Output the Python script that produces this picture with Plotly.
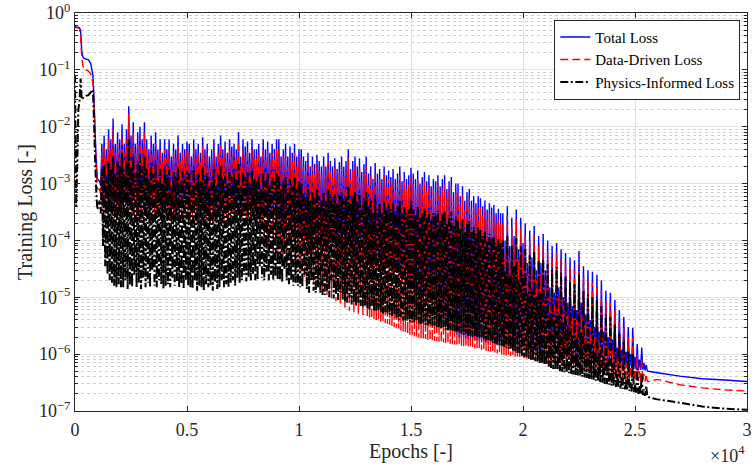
import plotly.graph_objects as go

# ---------------- data ----------------
# Early, smooth phase of training (epochs 0 - 1000)
epochs_early = [0, 50, 100, 150, 200, 250, 300, 350, 400, 500, 600, 700, 800, 850, 900, 950, 1000]
total_early = [0.58, 0.57, 0.56, 0.56, 0.55, 0.5, 0.22, 0.17, 0.16, 0.155, 0.15, 0.13, 0.08, 0.03, 8e-3, 2.5e-3, 1.2e-3]
data_early = [0.56, 0.55, 0.55, 0.54, 0.53, 0.4, 0.17, 0.12, 0.1, 0.1, 0.095, 0.085, 0.06, 0.025, 6e-3, 1.8e-3, 8e-4]
phys_early = [0.08, 4e-4, 2e-3, 0.02, 0.028, 0.07, 0.03, 0.032, 0.033, 0.035, 0.036, 0.04, 0.045, 0.012, 2.5e-3, 7e-4, 3.5e-4]

# Oscillating phase, one value every 50 epochs from 1100 to 25600 (one row = 1000 epochs)
epochs_noisy = list(range(1100, 25650, 50))

total_noisy = [
    1.1e-3, 9e-4, 5e-3, 5e-4, 7e-3, 4e-4, 4e-3, 3.5e-4, 9e-3, 4e-4, 6e-3, 3e-4, 1.4e-2, 4.5e-4, 5e-3, 3.5e-4, 8e-3, 4e-4, 6e-3, 3e-4,
    1.1e-2, 4e-4, 5e-3, 5e-4, 9e-3, 3.5e-4, 2.3e-2, 4.5e-4, 7e-3, 3.5e-4, 1.2e-2, 5e-4, 5e-3, 3.5e-4, 8e-3, 4e-4, 1e-2, 3e-4, 6e-3, 4.5e-4,
    1.2e-2, 3.5e-4, 6e-3, 4e-4, 4e-3, 3e-4, 7e-3, 5e-4, 5e-3, 3.5e-4, 8e-3, 4e-4, 4e-3, 4.5e-4, 6e-3, 3.5e-4, 3.5e-3, 3e-4, 6e-3, 4e-4,
    4e-3, 4e-4, 6e-3, 3e-4, 3e-3, 4.5e-4, 5e-3, 3.5e-4, 4e-3, 4e-4, 7e-3, 3e-4, 3.5e-3, 4e-4, 5e-3, 3e-4, 4e-3, 4.5e-4, 5.5e-3, 3.5e-4,
    5e-3, 3.5e-4, 3e-3, 3e-4, 6e-3, 4e-4, 4e-3, 2.5e-4, 5e-3, 3.5e-4, 3.5e-3, 3e-4, 6.5e-3, 2.5e-4, 4e-3, 3.5e-4, 5e-3, 3e-4, 3e-3, 3.5e-4,
    4e-3, 2.5e-4, 6e-3, 3.5e-4, 3e-3, 3e-4, 5e-3, 3e-4, 7e-3, 4e-4, 4e-3, 3e-4, 5.5e-3, 3.5e-4, 3.5e-3, 3e-4, 6e-3, 3.5e-4, 4.5e-3, 4e-4,
    5e-3, 3e-4, 4e-3, 3.5e-4, 8e-3, 3e-4, 3e-3, 3.5e-4, 6e-3, 4e-4, 4.5e-3, 3e-4, 5.5e-3, 3.5e-4, 3.5e-3, 3e-4, 6e-3, 4e-4, 4e-3, 3e-4,
    4e-3, 3e-4, 5e-3, 4e-4, 3e-3, 3e-4, 6e-3, 2.5e-4, 4e-3, 3.5e-4, 5.5e-3, 2.5e-4, 3.5e-3, 3e-4, 5e-3, 2.2e-4, 4e-3, 2.5e-4, 6e-3, 2e-4,
    6e-3, 2e-4, 3e-3, 1.8e-4, 4e-3, 2e-4, 5e-3, 1.6e-4, 3e-3, 1.7e-4, 4.5e-3, 1.5e-4, 3.5e-3, 1.6e-4, 5e-3, 1.4e-4, 3e-3, 1.5e-4, 4e-3, 1.3e-4,
    4e-3, 1.3e-4, 3e-3, 1.2e-4, 2.5e-3, 1.25e-4, 3.5e-3, 1.1e-4, 2e-3, 1.15e-4, 3e-3, 1e-4, 2.2e-3, 1.05e-4, 3.2e-3, 9.5e-5, 2.5e-3, 1e-4, 2e-3, 9e-5,
    3e-3, 9e-5, 2e-3, 8.5e-5, 3.5e-3, 8.8e-5, 2.5e-3, 8e-5, 2e-3, 8.2e-5, 2.8e-3, 7.5e-5, 1.8e-3, 7.8e-5, 2.4e-3, 7e-5, 3e-3, 7.2e-5, 2e-3, 6.5e-5,
    2.5e-3, 6.5e-5, 4e-3, 6e-5, 1.8e-3, 6.2e-5, 2.5e-3, 5.5e-5, 3e-3, 5.8e-5, 2e-3, 5e-5, 2.8e-3, 5.3e-5, 1.6e-3, 4.8e-5, 2.2e-3, 5e-5, 3e-3, 4.5e-5,
    1.5e-3, 4.5e-5, 2e-3, 4e-5, 1.2e-3, 4.2e-5, 2.3e-3, 3.8e-5, 1.5e-3, 4e-5, 1.8e-3, 3.5e-5, 1.2e-3, 3.6e-5, 2e-3, 3.2e-5, 1.4e-3, 3.4e-5, 1.7e-3, 3e-5,
    1.3e-3, 3e-5, 1.8e-3, 2.7e-5, 1.2e-3, 2.8e-5, 1.5e-3, 2.5e-5, 2e-3, 2.6e-5, 1.1e-3, 2.2e-5, 1.6e-3, 2.4e-5, 1.2e-3, 2e-5, 1.4e-3, 2.1e-5, 1.9e-3, 1.8e-5,
    1.5e-3, 1.7e-5, 1.2e-3, 1.4e-5, 1.7e-3, 1.5e-5, 1e-3, 1.2e-5, 1.3e-3, 1.2e-5, 1.6e-3, 1e-5, 1.1e-3, 1e-5, 1.4e-3, 8e-6, 9e-4, 8e-6, 1.2e-3, 6e-6,
    1.1e-3, 5e-6, 1.4e-3, 4.5e-6, 9e-4, 4e-6, 1.2e-3, 3.5e-6, 1.4e-3, 3.2e-6, 8e-4, 3e-6, 1.1e-3, 2.8e-6, 1.3e-3, 2.6e-6, 7e-4, 2.4e-6, 1e-3, 2.2e-6,
    1e-3, 1.97e-6, 6e-4, 1.95e-6, 9e-4, 1.9e-6, 5e-4, 1.88e-6, 7e-4, 1.85e-6, 8e-4, 1.82e-6, 5e-4, 1.8e-6, 6e-4, 1.78e-6, 4.5e-4, 1.75e-6, 6e-4, 1.72e-6,
    5.5e-4, 1.7e-6, 4e-4, 1.65e-6, 5e-4, 1.6e-6, 3.5e-4, 1.57e-6, 4.5e-4, 1.55e-6, 3.8e-4, 1.52e-6, 4.2e-4, 1.5e-6, 3e-4, 1.47e-6, 3.6e-4, 1.45e-6, 3e-4, 1.42e-6,
    3e-4, 1.4e-6, 1e-4, 1.39e-6, 4e-4, 1.38e-6, 8e-5, 1.36e-6, 2.5e-4, 1.34e-6, 1.2e-4, 1.32e-6, 3.5e-4, 1.3e-6, 7e-5, 1.28e-6, 2.5e-4, 1.26e-6, 9e-5, 1.24e-6,
    2e-4, 1.22e-6, 4e-5, 1.2e-6, 1.5e-4, 1.18e-6, 5e-5, 1.15e-6, 1.8e-4, 1.12e-6, 3e-5, 1.1e-6, 1.2e-4, 1.08e-6, 4e-5, 1.06e-6, 1.3e-4, 1.04e-6, 3e-5, 1.02e-6,
    1e-4, 1e-6, 1.5e-5, 9.9e-7, 8e-5, 9.7e-7, 1.2e-5, 9.5e-7, 9e-5, 9.4e-7, 1.5e-5, 9.2e-7, 7e-5, 9.1e-7, 1e-5, 9e-7, 6e-5, 8.9e-7, 8e-6, 8.8e-7,
    5e-5, 8.7e-7, 7e-6, 8.6e-7, 4.5e-5, 8.4e-7, 6e-6, 8.3e-7, 6.5e-5, 8.1e-7, 8e-6, 8e-7, 3.5e-5, 7.9e-7, 5e-6, 7.8e-7, 3e-5, 7.7e-7, 4e-6, 7.6e-7,
    2.8e-5, 7.5e-7, 3e-6, 7.4e-7, 2.5e-5, 7.2e-7, 2.5e-6, 7.1e-7, 2e-5, 7e-7, 2.5e-6, 6.9e-7, 1.3e-5, 6.7e-7, 2e-6, 6.6e-7, 1.2e-5, 6.5e-7, 1.8e-6, 6.4e-7,
    9e-6, 6.3e-7, 1.3e-6, 6.2e-7, 6e-6, 6.1e-7, 1.2e-6, 6e-7, 4.5e-6, 5.9e-7, 1.1e-6, 5.8e-7, 3e-6, 5.7e-7, 1e-6, 5.6e-7, 2.9e-6, 5.5e-7, 9e-7, 5.4e-7,
    1.5e-6, 5.35e-7, 8e-7, 5.3e-7, 1.3e-6, 5.25e-7, 7e-7, 5.2e-7, 6.5e-7, 5.1e-7, 5e-7,
]

data_noisy = [
    8e-4, 6e-4, 3.5e-3, 4e-4, 4.5e-3, 3e-4, 2.8e-3, 2.5e-4, 6e-3, 3e-4, 4e-3, 2e-4, 9e-3, 3.5e-4, 3.5e-3, 2.5e-4, 5e-3, 3e-4, 4e-3, 2e-4,
    7e-3, 3e-4, 3.5e-3, 4e-4, 6e-3, 2.5e-4, 1.7e-2, 3.5e-4, 4.5e-3, 2.5e-4, 8e-3, 4e-4, 3.5e-3, 2.5e-4, 5e-3, 3e-4, 6.5e-3, 2.2e-4, 4e-3, 3.5e-4,
    8e-3, 2.5e-4, 4e-3, 3e-4, 2.8e-3, 2e-4, 4.5e-3, 4e-4, 3.5e-3, 2.5e-4, 5e-3, 3e-4, 2.6e-3, 3.5e-4, 4e-3, 2.5e-4, 2.4e-3, 2e-4, 4e-3, 3e-4,
    2.8e-3, 3e-4, 4e-3, 2.2e-4, 2e-3, 3.5e-4, 3.5e-3, 2.5e-4, 2.8e-3, 3e-4, 4.5e-3, 2e-4, 2.4e-3, 3e-4, 3.5e-3, 2.2e-4, 2.8e-3, 3.5e-4, 3.8e-3, 2.5e-4,
    3.5e-3, 2.5e-4, 2e-3, 2e-4, 4e-3, 3e-4, 2.8e-3, 1.8e-4, 3.5e-3, 2.5e-4, 2.4e-3, 2.2e-4, 4.5e-3, 1.8e-4, 2.8e-3, 2.6e-4, 3.5e-3, 2.2e-4, 2e-3, 2.5e-4,
    2.8e-3, 1.8e-4, 4e-3, 2.5e-4, 2e-3, 2e-4, 3.5e-3, 2.2e-4, 5e-3, 2.8e-4, 2.8e-3, 2e-4, 3.8e-3, 2.4e-4, 2.4e-3, 2e-4, 4e-3, 2.5e-4, 3e-3, 3e-4,
    3.5e-3, 2e-4, 2.8e-3, 2.6e-4, 5.5e-3, 2.2e-4, 2e-3, 2.4e-4, 4e-3, 2.8e-4, 3e-3, 2.2e-4, 3.8e-3, 2.6e-4, 2.4e-3, 2e-4, 4e-3, 3e-4, 2.8e-3, 2.2e-4,
    2.8e-3, 2e-4, 3.5e-3, 1.2e-4, 2e-3, 1.8e-4, 4e-3, 9e-5, 2.8e-3, 1.5e-4, 3.8e-3, 7e-5, 2.4e-3, 1.4e-4, 3.5e-3, 6e-5, 2.8e-3, 1.2e-4, 4e-3, 5e-5,
    4e-3, 1e-4, 2e-3, 4e-5, 2.8e-3, 9e-5, 3.5e-3, 3.5e-5, 2e-3, 8e-5, 3e-3, 3e-5, 2.4e-3, 7e-5, 3.5e-3, 2.8e-5, 2e-3, 6e-5, 2.8e-3, 2.5e-5,
    2.8e-3, 5e-5, 2e-3, 2.2e-5, 1.7e-3, 4e-5, 2.4e-3, 2e-5, 1.4e-3, 3.5e-5, 2e-3, 1.8e-5, 1.5e-3, 3e-5, 2.2e-3, 1.5e-5, 1.7e-3, 2.5e-5, 1.4e-3, 1.3e-5,
    2e-3, 2e-5, 1.4e-3, 1.1e-5, 2.4e-3, 1.7e-5, 1.7e-3, 9.5e-6, 1.4e-3, 1.5e-5, 1.9e-3, 8.5e-6, 1.2e-3, 1.3e-5, 1.6e-3, 7.5e-6, 2e-3, 1.1e-5, 1.4e-3, 6.5e-6,
    1.7e-3, 1e-5, 2.8e-3, 5.8e-6, 1.2e-3, 9e-6, 1.7e-3, 5.4e-6, 2e-3, 8e-6, 1.4e-3, 5.1e-6, 1.9e-3, 7.5e-6, 1.1e-3, 4.8e-6, 1.5e-3, 7e-6, 2e-3, 4.5e-6,
    1e-3, 4.4e-6, 1.4e-3, 4.2e-6, 8e-4, 4.1e-6, 1.6e-3, 4e-6, 1e-3, 3.9e-6, 1.2e-3, 3.7e-6, 8e-4, 3.6e-6, 1.4e-3, 3.5e-6, 9e-4, 3.4e-6, 1.2e-3, 3.3e-6,
    9e-4, 3.1e-6, 1.2e-3, 3e-6, 8e-4, 2.9e-6, 1e-3, 2.8e-6, 1.4e-3, 2.6e-6, 7.5e-4, 2.5e-6, 1.1e-3, 2.4e-6, 8e-4, 2.3e-6, 9.5e-4, 2.2e-6, 1.3e-3, 2.1e-6,
    1e-3, 2.05e-6, 8e-4, 2e-6, 1.2e-3, 1.95e-6, 7e-4, 1.9e-6, 9e-4, 1.88e-6, 1.1e-3, 1.85e-6, 7.5e-4, 1.8e-6, 9.5e-4, 1.75e-6, 6e-4, 1.72e-6, 8e-4, 1.7e-6,
    7.5e-4, 1.68e-6, 9.5e-4, 1.65e-6, 6e-4, 1.62e-6, 8e-4, 1.6e-6, 9.5e-4, 1.57e-6, 5.5e-4, 1.55e-6, 7.5e-4, 1.52e-6, 9e-4, 1.5e-6, 4.8e-4, 1.48e-6, 7e-4, 1.45e-6,
    6.5e-4, 1.43e-6, 4e-4, 1.4e-6, 6e-4, 1.38e-6, 3.4e-4, 1.36e-6, 4.8e-4, 1.33e-6, 5.5e-4, 1.3e-6, 3.4e-4, 1.28e-6, 4e-4, 1.26e-6, 3e-4, 1.24e-6, 4e-4, 1.22e-6,
    3.8e-4, 1.2e-6, 2.7e-4, 1.17e-6, 3.4e-4, 1.15e-6, 2.4e-4, 1.12e-6, 3e-4, 1.1e-6, 2.6e-4, 1.08e-6, 2.8e-4, 1.05e-6, 2e-4, 1.03e-6, 2.4e-4, 1e-6, 2e-4, 9.8e-7,
    2e-4, 9.6e-7, 6e-5, 9.5e-7, 2.7e-4, 9.4e-7, 5e-5, 9.3e-7, 1.7e-4, 9.2e-7, 8e-5, 9.1e-7, 2.4e-4, 9e-7, 4.5e-5, 8.9e-7, 1.7e-4, 8.7e-7, 6e-5, 8.5e-7,
    1.3e-4, 8.3e-7, 2.5e-5, 8.2e-7, 1e-4, 8e-7, 3e-5, 7.9e-7, 1.2e-4, 7.7e-7, 2e-5, 7.6e-7, 8e-5, 7.4e-7, 2.5e-5, 7.3e-7, 8.5e-5, 7.2e-7, 2e-5, 7.1e-7,
    6.5e-5, 6.9e-7, 1e-5, 6.8e-7, 5.2e-5, 6.7e-7, 8e-6, 6.6e-7, 6e-5, 6.5e-7, 1e-5, 6.4e-7, 4.6e-5, 6.3e-7, 7e-6, 6.2e-7, 4e-5, 6.1e-7, 5e-6, 6e-7,
    3.3e-5, 5.9e-7, 4.5e-6, 5.8e-7, 3e-5, 5.7e-7, 4e-6, 5.6e-7, 4e-5, 5.5e-7, 5e-6, 5.4e-7, 2.3e-5, 5.3e-7, 3.5e-6, 5.2e-7, 2e-5, 5.1e-7, 3e-6, 5e-7,
    1.8e-5, 4.9e-7, 2e-6, 4.8e-7, 1.6e-5, 4.7e-7, 1.7e-6, 4.6e-7, 1.3e-5, 4.5e-7, 1.6e-6, 4.4e-7, 8.5e-6, 4.3e-7, 1.3e-6, 4.2e-7, 8e-6, 4.1e-7, 1.2e-6, 4e-7,
    6e-6, 3.95e-7, 8e-7, 3.9e-7, 4e-6, 3.85e-7, 7.5e-7, 3.8e-7, 3e-6, 3.7e-7, 7e-7, 3.65e-7, 2e-6, 3.6e-7, 6e-7, 3.5e-7, 1.9e-6, 3.45e-7, 5.5e-7, 3.4e-7,
    1e-6, 3.35e-7, 5e-7, 3.3e-7, 8.5e-7, 3.3e-7, 4.5e-7, 3.3e-7, 4.5e-7, 3.3e-7, 3.3e-7,
]

phys_noisy = [
    5e-4, 3e-4, 1.8e-3, 8e-5, 2.2e-3, 3.5e-5, 1.3e-3, 2.5e-5, 2.5e-3, 2e-5, 1.8e-3, 1.8e-5, 3e-3, 1.6e-5, 1.5e-3, 1.5e-5, 2.5e-3, 1.7e-5, 2e-3, 1.5e-5,
    3.5e-3, 1.5e-5, 1.5e-3, 2e-5, 2.5e-3, 1.4e-5, 6e-3, 1.6e-5, 2e-3, 1.5e-5, 3e-3, 2.5e-5, 1.5e-3, 1.5e-5, 2.2e-3, 1.8e-5, 3e-3, 1.4e-5, 1.8e-3, 2.2e-5,
    3e-3, 1.5e-5, 1.8e-3, 1.8e-5, 1.2e-3, 1.5e-5, 2e-3, 3e-5, 1.5e-3, 1.6e-5, 2.2e-3, 1.5e-5, 1.1e-3, 2e-5, 1.8e-3, 1.7e-5, 1e-3, 1.4e-5, 1.8e-3, 1.6e-5,
    1.3e-3, 1.7e-5, 1.8e-3, 1.5e-5, 9e-4, 2.2e-5, 1.6e-3, 1.6e-5, 1.3e-3, 1.9e-5, 2e-3, 1.5e-5, 1.1e-3, 1.7e-5, 1.6e-3, 1.4e-5, 1.2e-3, 2e-5, 1.7e-3, 1.6e-5,
    1.5e-3, 1.5e-5, 9e-4, 1.4e-5, 1.8e-3, 2e-5, 1.2e-3, 1.3e-5, 1.5e-3, 1.6e-5, 1.1e-3, 1.5e-5, 2e-3, 1.3e-5, 1.2e-3, 1.7e-5, 1.5e-3, 1.5e-5, 9e-4, 1.6e-5,
    1.2e-3, 1.3e-5, 1.8e-3, 1.8e-5, 9e-4, 1.4e-5, 1.5e-3, 1.5e-5, 2e-3, 2e-5, 1.2e-3, 1.5e-5, 1.6e-3, 1.7e-5, 1e-3, 1.5e-5, 1.8e-3, 1.8e-5, 1.3e-3, 2e-5,
    1.5e-3, 1.6e-5, 1.2e-3, 2.2e-5, 2.2e-3, 1.8e-5, 9e-4, 2e-5, 1.6e-3, 2.5e-5, 1.3e-3, 1.9e-5, 1.6e-3, 2.3e-5, 1e-3, 2e-5, 1.7e-3, 2.6e-5, 1.2e-3, 2e-5,
    1.1e-3, 2e-5, 1.4e-3, 3.5e-5, 8e-4, 2.2e-5, 1.5e-3, 2e-5, 1.1e-3, 2.8e-5, 1.5e-3, 2e-5, 9e-4, 2.5e-5, 1.3e-3, 2e-5, 1.1e-3, 2.3e-5, 1.5e-3, 2e-5,
    1.4e-3, 2e-5, 8e-4, 1.8e-5, 1.1e-3, 3e-5, 1.3e-3, 2e-5, 8e-4, 1.7e-5, 1.2e-3, 2e-5, 9e-4, 1.6e-5, 1.3e-3, 1.8e-5, 8e-4, 1.6e-5, 1.1e-3, 1.5e-5,
    1e-3, 1.5e-5, 7e-4, 2.5e-5, 6e-4, 1.4e-5, 8e-4, 1.2e-5, 5e-4, 2e-5, 7e-4, 1.3e-5, 5.5e-4, 1.2e-5, 8e-4, 1.5e-5, 6e-4, 1.2e-5, 5e-4, 1.1e-5,
    7e-4, 1.1e-5, 5e-4, 1.3e-5, 8e-4, 1e-5, 6e-4, 2e-5, 5e-4, 9.5e-6, 6.5e-4, 1.1e-5, 4.5e-4, 9e-6, 6e-4, 1.2e-5, 7e-4, 9e-6, 5e-4, 8.5e-6,
    6e-4, 8e-6, 9e-4, 1e-5, 4.5e-4, 7.5e-6, 6e-4, 8e-6, 7e-4, 7e-6, 5e-4, 8e-6, 6.5e-4, 7e-6, 4e-4, 6.8e-6, 5.5e-4, 7e-6, 7e-4, 6.5e-6,
    4e-4, 6e-6, 5e-4, 7e-6, 3e-4, 5.8e-6, 5.5e-4, 5.5e-6, 3.5e-4, 6e-6, 4.5e-4, 5.4e-6, 3e-4, 5.2e-6, 5e-4, 5.5e-6, 3.5e-4, 5e-6, 4.5e-4, 5e-6,
    3.5e-4, 4.5e-6, 4.5e-4, 5e-6, 3e-4, 4.2e-6, 4e-4, 4e-6, 5e-4, 4.5e-6, 2.8e-4, 3.9e-6, 4e-4, 3.8e-6, 3e-4, 4e-6, 3.5e-4, 3.7e-6, 4.8e-4, 3.6e-6,
    3.5e-4, 3.6e-6, 2.8e-4, 4e-6, 4e-4, 3.5e-6, 2.5e-4, 3.4e-6, 3e-4, 3.5e-6, 3.8e-4, 3.3e-6, 2.6e-4, 3.2e-6, 3.3e-4, 3.4e-6, 2.2e-4, 3.1e-6, 3e-4, 3.2e-6,
    2.8e-4, 3e-6, 3.3e-4, 2.9e-6, 2.2e-4, 2.8e-6, 3e-4, 3e-6, 3.3e-4, 2.7e-6, 2e-4, 2.6e-6, 2.8e-4, 2.7e-6, 3.2e-4, 2.6e-6, 1.8e-4, 2.5e-6, 2.6e-4, 2.5e-6,
    2.3e-4, 2.4e-6, 1.6e-4, 2.3e-6, 2.4e-4, 2.2e-6, 1.4e-4, 2.3e-6, 2e-4, 2.1e-6, 2.2e-4, 2.1e-6, 1.4e-4, 2e-6, 1.7e-4, 2.05e-6, 1.3e-4, 2e-6, 1.7e-4, 1.95e-6,
    1.6e-4, 1.9e-6, 1.2e-4, 1.8e-6, 1.5e-4, 1.75e-6, 1e-4, 1.7e-6, 1.3e-4, 1.65e-6, 1.1e-4, 1.6e-6, 1.2e-4, 1.55e-6, 9e-5, 1.5e-6, 1.1e-4, 1.45e-6, 9e-5, 1.4e-6,
    1e-4, 1.35e-6, 3e-5, 1.3e-6, 1.2e-4, 1.25e-6, 2.5e-5, 1.2e-6, 8e-5, 1.15e-6, 3.5e-5, 1.1e-6, 1.1e-4, 1.05e-6, 2e-5, 1e-6, 8e-5, 9.5e-7, 2.5e-5, 9e-7,
    7e-5, 8.7e-7, 1.2e-5, 8.4e-7, 5.5e-5, 8e-7, 1.4e-5, 7.8e-7, 6.5e-5, 7.5e-7, 1e-5, 7.3e-7, 4.5e-5, 7e-7, 1.2e-5, 6.8e-7, 4.8e-5, 6.6e-7, 9e-6, 6.5e-7,
    3.8e-5, 6e-7, 5e-6, 5.7e-7, 3e-5, 5.5e-7, 4e-6, 5.3e-7, 3.4e-5, 5.2e-7, 5e-6, 5e-7, 2.7e-5, 4.9e-7, 3.5e-6, 4.8e-7, 2.3e-5, 4.7e-7, 3e-6, 4.6e-7,
    1.9e-5, 4.5e-7, 2.2e-6, 4.4e-7, 1.7e-5, 4.3e-7, 2e-6, 4.2e-7, 2.5e-5, 4.1e-7, 2.4e-6, 4e-7, 1.3e-5, 3.9e-7, 1.7e-6, 3.8e-7, 1.1e-5, 3.7e-7, 1.5e-6, 3.6e-7,
    1e-5, 3.5e-7, 1.1e-6, 3.4e-7, 9e-6, 3.3e-7, 1e-6, 3.2e-7, 7e-6, 3.1e-7, 9e-7, 3e-7, 5e-6, 2.95e-7, 8e-7, 2.9e-7, 4.5e-6, 2.8e-7, 7e-7, 2.7e-7,
    3.3e-6, 2.65e-7, 4.5e-7, 2.6e-7, 2.3e-6, 2.5e-7, 4e-7, 2.45e-7, 1.7e-6, 2.4e-7, 3.6e-7, 2.3e-7, 1.1e-6, 2.25e-7, 3.2e-7, 2.2e-7, 1e-6, 2.15e-7, 3e-7, 2.1e-7,
    5.5e-7, 2e-7, 2.8e-7, 1.95e-7, 4.5e-7, 1.9e-7, 2.4e-7, 1.85e-7, 2.8e-7, 1.8e-7, 1.75e-7,
]

# Converged tail
epochs_late = [26000, 27000, 28000, 29000, 30000]
total_late = [4.7e-7, 4.1e-7, 3.7e-7, 3.5e-7, 3.3e-7]
data_late = [3.6e-7, 2.9e-7, 2.55e-7, 2.35e-7, 2.25e-7]
phys_late = [1.6e-7, 1.4e-7, 1.2e-7, 1.1e-7, 1.05e-7]

# Axis tick labels
x_tickvals = [0, 5000, 10000, 15000, 20000, 25000, 30000]
x_ticktext = ["0", "0.5", "1", "1.5", "2", "2.5", "3"]
y_exponents = [-7, -6, -5, -4, -3, -2, -1, 0]

n = min(len(epochs_noisy), len(total_noisy), len(data_noisy), len(phys_noisy))
epochs = epochs_early + epochs_noisy[:n] + epochs_late
total = total_early + total_noisy[:n] + total_late
data = data_early + data_noisy[:n] + data_late
phys = phys_early + phys_noisy[:n] + phys_late

FONT = "Liberation Serif, serif"
AX = "#262626"

fig = go.Figure()
fig.add_trace(go.Scatter(x=epochs, y=total, mode="lines", name="Total Loss",
                         line=dict(color="#0000ff", width=1.4, simplify=False)))
fig.add_trace(go.Scatter(x=epochs, y=data, mode="lines", name="Data-Driven Loss",
                         line=dict(color="#ff0000", width=1.4, dash="8px,4px", simplify=False)))
fig.add_trace(go.Scatter(x=epochs, y=phys, mode="lines", name="Physics-Informed Loss",
                         line=dict(color="#000000", width=2.0, dash="8px,2.5px,2px,2.5px", simplify=False)))

minor_vals = [m * 10.0 ** e for e in range(-7, 0) for m in range(2, 10)]

fig.update_layout(
    width=753, height=468,
    margin=dict(l=75, r=1, t=12, b=57),
    paper_bgcolor="white", plot_bgcolor="white",
    font=dict(family=FONT, size=18, color=AX),
    showlegend=True,
    legend=dict(x=0.99, y=0.983, xanchor="right", yanchor="top",
                bgcolor="white", bordercolor=AX, borderwidth=1,
                font=dict(family=FONT, size=15, color="#000000"),
                tracegroupgap=0, itemwidth=30),
    xaxis=dict(
        range=[0, 30000], tickmode="array", tickvals=x_tickvals, ticktext=x_ticktext,
        showline=True, linecolor=AX, linewidth=1, mirror="ticks",
        ticks="inside", ticklen=5, tickcolor=AX, ticklabeloverflow="allow",
        ticklabelstandoff=2,
        showgrid=True, gridcolor="#e2e2e2", gridwidth=1, zeroline=False,
        title=dict(text="Epochs [-]", font=dict(family=FONT, size=20), standoff=0),
        tickfont=dict(family=FONT, size=18),
    ),
    yaxis=dict(
        type="log", range=[-7, 0], tickmode="array",
        tickvals=[10.0 ** e for e in y_exponents],
        ticktext=["10<sup>%s</sup>" % (str(e).replace("-", "\u2212")) for e in y_exponents],
        showline=True, linecolor=AX, linewidth=1, mirror="ticks",
        ticks="inside", ticklen=5, tickcolor=AX, ticklabeloverflow="allow",
        showgrid=True, gridcolor="#e2e2e2", gridwidth=1, zeroline=False,
        minor=dict(tickmode="array", tickvals=minor_vals, ticks="inside", ticklen=3,
                   tickcolor=AX, showgrid=True, gridcolor="#cfcfcf", griddash="dot", gridwidth=1),
        title=dict(text="Training Loss [-]", font=dict(family=FONT, size=20), standoff=0),
        tickfont=dict(family=FONT, size=18),
    ),
    annotations=[dict(text="\u00d710<sup>4</sup>", xref="paper", yref="paper", x=1.0, y=-0.11,
                      xanchor="right", yanchor="middle", showarrow=False,
                      font=dict(family=FONT, size=18, color=AX))],
)

fig.write_html("out.html", config={"displayModeBar": False},
               post_script="document.body.style.margin='0px';")
